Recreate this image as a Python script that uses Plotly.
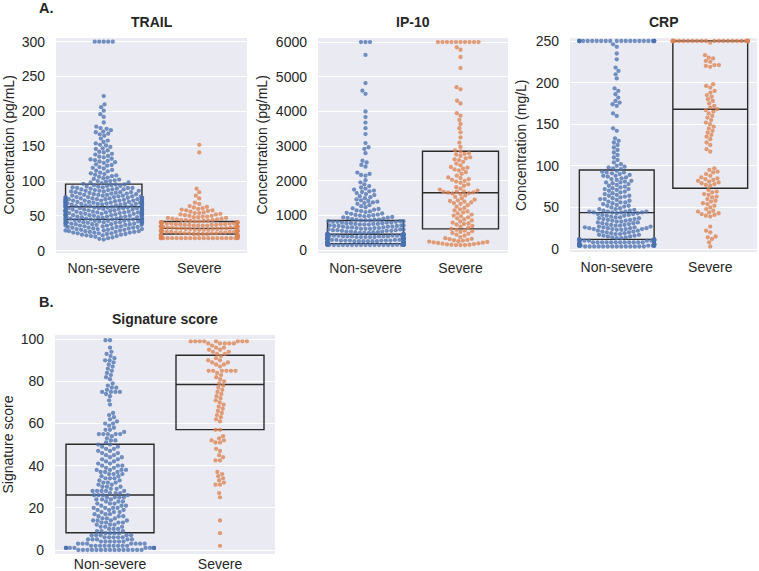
import numpy as np
import plotly.graph_objects as go

W, H = 759, 571
categories = ["Non-severe", "Severe"]

# ---------------- data ----------------
trail_ns = [
    300, 300, 300, 300, 300,
    222, 210, 206, 201, 196, 192, 184,
    178, 176, 175, 173, 171, 170, 168, 167, 165,
    161, 158, 156, 154, 152, 151, 149, 147, 146, 144,
    142, 141, 139, 138, 136, 135, 134, 132, 131, 130,
    129, 128, 127, 126, 124, 123, 122, 120, 119, 118, 116, 115, 114, 112, 111, 110,
    109, 108, 107, 106, 105, 104, 103, 102, 101, 100, 100, 99, 98, 98, 97, 96,
    95, 95, 94, 94, 93, 93, 92, 92, 91, 91, 90, 90, 90, 89, 89, 88, 88, 88, 87, 87,
    86, 86, 86, 85, 85, 84, 84, 84, 83, 83, 82, 82, 82, 81, 81, 80, 80, 80,
    79, 79, 79, 78, 78, 78, 77, 77, 77, 77,
    76, 76, 76, 76, 75, 75, 75, 75, 74, 74, 74, 74, 74, 73, 73, 73, 73,
    72, 72, 72, 72, 72, 71, 71, 71, 71, 70, 70, 70, 70, 70, 69, 69, 69, 69,
    68, 68, 68, 68, 68, 67, 67, 67, 67, 66, 66, 66, 66, 66, 65, 65, 65, 65,
    64, 64, 64, 64, 64, 63, 63, 63, 63,
    62, 62, 62, 62, 61, 61, 61, 61, 61, 60, 60, 60, 60, 59, 59, 59, 59,
    58, 58, 58, 58, 58, 57, 57, 57, 57, 56, 56, 56, 56, 55, 55, 55, 55, 55,
    54, 54, 54, 54, 53, 53, 53, 53, 52, 52, 52, 52, 52, 51, 51, 51, 51,
    50, 50, 50, 50, 49, 49, 49, 49, 48, 48, 48, 48, 47, 47, 47, 47,
    46, 46, 46, 46, 45, 45, 45, 45,
    44, 44, 44, 44, 43, 43, 43, 43, 42, 42, 42, 42, 41, 41, 41, 41,
    40, 40, 40, 40, 39, 39, 39, 39, 38, 38, 38, 38, 37, 37, 37, 36, 36, 36, 35, 35, 35,
    34, 34, 34, 33, 33, 33, 32, 32, 32, 31, 31, 31, 30, 30, 30,
    29, 29, 29, 28, 28, 28, 27, 27, 27, 26, 26, 26, 25, 25, 25,
    24, 24, 23, 23, 22, 22, 21, 21, 20, 19,
    18, 17, 16,
]
trail_s = [
    152, 141, 89, 84, 79, 75,
    69, 67, 64, 63, 62, 61,
    60, 59, 58, 58, 57, 56, 55,
    54, 54, 53, 52, 52, 51, 50, 50,
    49, 49, 48, 48, 47, 47, 46, 46, 45, 45,
    44, 44, 44, 43, 43, 43, 42, 42,
    41, 41, 41, 41, 40, 40, 40, 40, 39, 39, 39, 39, 38, 38, 38, 38,
    37, 37, 37, 37, 36, 36, 36, 36, 35, 35, 35, 35, 34, 34, 34, 34,
    33, 33, 33, 33, 32, 32, 32, 32, 31, 31, 31, 31, 30, 30, 30, 30,
    29, 29, 29, 29, 28, 28, 28, 28, 27, 27, 27, 27, 26, 26, 26, 26,
    25, 25, 25, 25, 24, 24, 24, 24, 23, 23, 23, 23, 22, 22, 22, 22,
    21, 21, 21, 21, 20, 20, 20, 20,
    18, 18, 18, 18, 18, 18, 18, 18, 18, 18, 18,
    18, 18, 18, 18, 18, 18, 18, 18, 18, 18, 18,
]

ip10_ns = [
    6000, 6000, 6000, 5630, 4820, 4600, 4510, 4000, 3840, 3680, 3520, 3350,
    3090, 2970, 2920, 2800, 2580, 2530, 2460, 2410, 2240, 2200, 2170, 2150,
    2020, 1960, 1900, 1850, 1810, 1780, 1750, 1720, 1700, 1680, 1650, 1620,
    1590, 1560, 1530, 1500, 1470, 1440, 1420, 1400, 1380, 1360,
    1340, 1300, 1270, 1240, 1210, 1190, 1170, 1150, 1130, 1120, 1100,
    1080, 1060, 1050, 1030, 1020, 1010, 1000,
    990, 980, 960, 950, 940, 930, 910, 900,
    880, 880, 880, 860, 860, 860, 840, 840, 840, 820, 820, 820, 800, 800, 800,
    780, 780, 780, 760, 760, 760, 740, 740, 740, 720, 720, 720, 700, 700, 700,
    680, 680, 680, 660, 660, 660, 640, 640, 640, 620, 620, 620, 600, 600, 600,
    580, 580, 580, 560, 560, 560, 540, 540, 540, 520, 520, 520, 500, 500, 500,
    480, 480, 480,
    460, 460, 460, 460, 460, 460, 440, 440, 440, 440, 440, 440,
    420, 420, 420, 420, 420, 420, 400, 400, 400, 400, 400, 400,
    380, 380, 380, 380, 380, 380, 360, 360, 360, 360, 360, 360,
    340, 340, 340, 340, 340, 340, 320, 320, 320, 320, 320, 320,
    300, 300, 300, 300, 300, 300, 280, 280, 280, 280, 280, 280,
    260, 260, 260, 260, 260, 260, 240, 240, 240, 240, 240, 240,
    220, 220, 220, 220, 220, 220, 200, 200, 200, 200, 200, 200,
    190, 190, 190, 190, 190, 190, 190, 190,
    175, 175, 175, 175, 175, 175, 175, 175, 175, 175,
    160, 160, 160, 160, 160, 160, 160, 160, 160, 160, 160, 160,
    150, 150, 150, 150, 150, 150, 150, 150, 150, 150, 150, 150, 150, 150,
]
ip10_s = [
    6000, 6000, 6000, 6000, 6000, 6000, 6000, 6000, 6000, 6000,
    5850, 5780, 5570, 5250, 4700, 4640, 4310, 4230, 3950, 3880, 3760, 3640,
    3520, 3400, 3250, 3100, 2980,
    2880, 2850, 2800, 2780, 2760, 2720, 2680, 2650, 2620, 2600,
    2550, 2500, 2450, 2400, 2380, 2350, 2330, 2300, 2250, 2200, 2150, 2100,
    2080, 2050, 2030, 2000, 1980, 1950,
    1900, 1860, 1820, 1780, 1750, 1720, 1700, 1690, 1680, 1670, 1660, 1650,
    1640, 1620,
    1580, 1540, 1500, 1460, 1440, 1420, 1400, 1380, 1360, 1340, 1300, 1260,
    1220, 1180, 1150, 1120, 1090, 1060, 1030, 1000,
    980, 950, 920, 890, 860, 830, 800, 780, 760, 740, 700, 680, 650, 620,
    590, 570, 550, 530, 500, 480, 450, 420,
    380, 350, 330, 320, 300, 290, 280, 260, 250, 240, 230, 220, 210, 200,
    190, 180, 170, 160, 160, 150, 150, 150,
]

crp_ns = [
    250, 250, 250, 250, 250, 250, 250, 250, 250, 250, 250, 250,
    250, 250, 250, 250, 250, 250, 250, 250, 250, 250, 250, 250,
    246, 243, 235, 228, 218, 214, 210, 205, 193, 190, 186, 182, 178, 176, 174,
    172, 163, 160, 145, 142, 133, 130, 128, 125, 122, 119, 116, 113, 110, 107,
    104, 102, 100, 99, 98, 97, 96,
    94, 93, 92, 92, 91, 90, 89, 88, 88, 87, 86, 85, 84, 83, 82, 81, 80, 80,
    79, 78, 77, 76, 75, 74, 73, 72, 72, 71, 70, 69, 68, 67, 66, 65, 64, 64,
    63, 62, 61, 60, 60, 59, 58, 57, 56, 56, 55, 54, 53, 52, 52, 51, 50, 49,
    48, 48, 47, 46, 46, 45, 45, 45, 45, 44, 44, 44, 44,
    43, 43, 42, 42, 41, 41, 40, 40, 39, 38, 38, 37, 37, 36, 36, 35, 35, 34,
    34, 33, 33, 32, 32, 31, 31, 30, 30, 29, 29, 28, 28, 27, 27, 26, 26, 26,
    25, 25, 25, 25, 24, 24, 24, 24, 23, 23, 22, 22, 21, 21, 20, 20, 19, 19,
    18, 18, 17, 17, 16, 16, 15, 15, 14, 14, 13, 13, 12, 12,
    11, 11, 11, 11, 11, 11, 11, 11, 11, 11, 10, 10, 10, 10, 10, 10, 10, 10,
    8, 8, 8, 8, 8, 8, 8, 8, 8, 8, 8, 8, 6, 6, 6, 6, 6, 6, 6, 6, 6, 6, 6, 6,
    4, 4, 4, 4, 4, 4, 4, 4, 4, 4,
    3, 3, 3, 3, 3, 3, 3, 3, 3, 3, 3, 3, 3, 3,
]
crp_s = [
    250, 250, 250, 250, 250, 250, 250, 250, 250, 250, 250, 250, 250, 250,
    250, 250, 250, 250, 250, 250, 250, 250, 250, 250, 250, 250, 250, 250,
    248,
    233, 230, 229, 226, 225, 221, 221, 220, 219,
    198, 196, 194, 190, 188, 185, 183, 180, 178, 175, 172, 170, 168, 167,
    165, 163, 160, 158, 155, 152, 150, 147, 145, 142, 140, 137, 135, 132,
    128, 125, 120, 117,
    97, 95, 93, 92, 90, 88, 86, 85, 84, 83, 82, 81, 80, 79, 78, 77, 76,
    71, 69, 68, 66, 65, 63, 62, 60, 58, 57, 55, 54, 52, 50, 48, 46, 45,
    44, 43, 42, 41, 40, 39,
    27, 22, 20, 15, 14, 12, 8, 3,
]

sig_ns = [
    99.5, 99.5, 96, 94, 93, 92, 91, 90, 90, 89, 88, 87,
    86, 85, 84, 83, 82, 81, 79, 78, 77, 77, 76, 75, 75, 75, 75, 74, 73,
    71, 69, 65, 64, 63, 62, 61, 60, 60, 59, 58, 57, 57, 56,
    55, 55, 55, 55, 55, 54, 53, 52, 52, 51,
    50, 50, 49, 49, 48, 48, 47, 47, 46, 46, 45, 45, 44, 44, 43, 43, 42, 42,
    41, 41, 40, 40, 40, 39, 39, 38, 38, 38, 38, 37, 37, 37, 36, 36, 36,
    35, 35, 34, 34, 34, 33, 33, 32, 32, 32, 31, 31, 30, 30, 30, 29, 29,
    28, 28, 28, 28, 28, 27, 27, 27, 26, 26, 26, 26,
    25, 25, 25, 25, 24, 24, 24, 23, 23, 23, 22, 22, 22, 21, 21, 21,
    20, 20, 20, 20, 19, 19, 19, 18, 18, 18, 17, 17, 17, 16, 16, 16,
    15, 15, 15, 14, 14, 14, 14, 13, 13, 13, 13, 12, 12, 12, 11, 11, 11,
    10, 10, 10, 9, 9, 9, 8, 8, 8, 8,
    7, 7, 7, 7, 7, 6, 6, 6, 6, 6, 5, 5, 5, 5, 5, 4, 4, 4, 4, 4, 4,
    3, 3, 3, 3, 3, 3, 3, 2, 2, 2, 2, 2, 2, 2, 2, 2,
    1, 1, 1, 1, 1, 1, 1, 1, 1, 1,
    0, 0, 0, 0, 0, 0, 0, 0, 0, 0, 0, 0, 0, 0, 0,
]
sig_s = [
    99, 99, 99, 99, 99, 99, 99, 99, 98, 98, 98, 98, 98,
    97, 96, 96, 95, 95, 94, 94, 93, 93,
    92, 91, 90, 90, 89, 89, 88, 88, 87,
    85, 85, 85, 85, 85, 85,
    84, 83, 82, 81, 80, 79, 78, 77, 76, 75, 74, 73,
    72, 71, 70, 69, 68, 67, 66, 65, 64, 63, 62, 61,
    57, 57, 54, 53, 52, 52, 51, 51, 48, 47, 45, 44, 42.5, 42.5,
    37, 36, 35, 34, 33, 32, 31, 31, 27, 25, 14, 8, 2,
]

# box statistics (quartiles), [Non-severe, Severe]
trail_q1, trail_med, trail_q3 = [45, 24], [63, 32], [95.5, 42]
ip10_q1, ip10_med, ip10_q3 = [193, 617], [463, 1659], [858, 2854]
crp_q1, crp_med, crp_q3 = [11.6, 73], [43.7, 168], [95, 250]
sig_q1, sig_med, sig_q3 = [8.2, 57.1], [26.1, 78.5], [50.2, 92.4]

trail_ticks = [0, 50, 100, 150, 200, 250, 300]
ip10_ticks = [0, 1000, 2000, 3000, 4000, 5000, 6000]
crp_ticks = [0, 50, 100, 150, 200, 250]
sig_ticks = [0, 20, 40, 60, 80, 100]

# ---------------- styling / layout ----------------
BLUE = "rgba(76,114,176,0.78)"
ORANGE = "rgba(221,132,82,0.78)"
BG = "#EAEAF2"
TXT = "#262626"
FONT = "Liberation Sans, Arial, sans-serif"
FS = 14
MSIZE = 4.3

panels = [
    dict(title="TRAIL", ylabel="Concentration (pg/mL)", data=[trail_ns, trail_s],
         q1=trail_q1, med=trail_med, q3=trail_q3, ticks=trail_ticks,
         px=(56, 247, 38, 253), yr=(-3.3, 305.3), labx=8, xstand=5),
    dict(title="IP-10", ylabel="Concentration (pg/mL)", data=[ip10_ns, ip10_s],
         q1=ip10_q1, med=ip10_med, q3=ip10_q3, ticks=ip10_ticks,
         px=(318, 508, 38, 253), yr=(-78, 6118), labx=261, xstand=5),
    dict(title="CRP", ylabel="Concentration (mg/L)", data=[crp_ns, crp_s],
         q1=crp_q1, med=crp_med, q3=crp_q3, ticks=crp_ticks,
         px=(570, 757, 38, 252), yr=(-3.6, 253.6), labx=521, xstand=5),
    dict(title="Signature score", ylabel="Signature score", data=[sig_ns, sig_s],
         q1=sig_q1, med=sig_med, q3=sig_q3, ticks=sig_ticks,
         px=(55, 275, 335, 554), yr=(-1.9, 102), labx=7, xstand=0),
]


def swarm(values, px_per_y, d):
    """Beeswarm layout (seaborn-like): returns horizontal pixel offsets."""
    vals = np.asarray(values, float)
    order = np.argsort(vals, kind="stable")
    px_list, py_list = [], []
    out = np.zeros(len(vals))
    for idx in order:
        y = vals[idx] * px_per_y
        if px_list:
            pxa = np.array(px_list)
            pya = np.array(py_list)
            m = np.abs(pya - y) < d
            nx, ny = pxa[m], pya[m]
        else:
            nx, ny = np.array([]), np.array([])
        cands = [0.0]
        left = True
        for a, b in zip(nx, ny):
            dx = np.sqrt(max(d * d - (y - b) ** 2, 0.0)) * 1.05
            pair = [a - dx, a + dx] if left else [a + dx, a - dx]
            cands.extend(pair)
            left = not left
        cands = np.array(cands)
        cands = cands[np.argsort(np.abs(cands), kind="stable")]
        chosen = cands[0]
        for c in cands:
            if len(nx) == 0 or np.all((nx - c) ** 2 + (ny - y) ** 2 >= d * d * 0.999):
                chosen = c
                break
        px_list.append(chosen)
        py_list.append(y)
        out[idx] = chosen
    return out


fig = go.Figure()
annotations = []
layout = {}
colors = [BLUE, ORANGE]

for i, p in enumerate(panels):
    n = "" if i == 0 else str(i + 1)
    xa, ya = "x" + n, "y" + n
    x0, x1, y0, y1 = p["px"]
    px_per_x = (x1 - x0) / 2.0
    px_per_y = (y1 - y0) / (p["yr"][1] - p["yr"][0])
    for c, vals in enumerate(p["data"]):
        off = swarm(vals, px_per_y, MSIZE) / px_per_x
        off = np.clip(off, -0.4, 0.4)
        fig.add_trace(go.Scatter(
            x=c + off, y=vals, mode="markers", xaxis=xa, yaxis=ya,
            marker=dict(size=MSIZE, color=colors[c], line=dict(width=0)),
            showlegend=False, hoverinfo="y", cliponaxis=False))
    fig.add_trace(go.Box(
        x=[0, 1], q1=p["q1"], median=p["med"], q3=p["q3"],
        lowerfence=p["q1"], upperfence=p["q3"], width=0.8, whiskerwidth=0,
        orientation="v", fillcolor="rgba(0,0,0,0)",
        line=dict(color="#2b2b2b", width=1.4), boxpoints=False,
        xaxis=xa, yaxis=ya, showlegend=False, hoverinfo="skip"))
    layout["xaxis" + n] = dict(
        domain=[x0 / W, x1 / W], range=[-0.5, 1.5], tickvals=[0, 1],
        ticktext=categories, showgrid=False, zeroline=False, showline=False,
        anchor=ya, ticks="", tickfont=dict(size=FS, color=TXT, family=FONT),
        ticklabelstandoff=p["xstand"], automargin=False, fixedrange=True)
    layout["yaxis" + n] = dict(
        domain=[1 - y1 / H, 1 - y0 / H], range=list(p["yr"]), tickvals=p["ticks"],
        showgrid=True, gridcolor="white", gridwidth=1.3, zeroline=False,
        showline=False, anchor=xa, ticks="",
        tickfont=dict(size=FS, color=TXT, family=FONT), ticklabelstandoff=10,
        automargin=False, fixedrange=True)
    annotations.append(dict(
        text="<b>" + p["title"] + "</b>", x=(x0 + x1) / 2 / W, y=1 - (y0 - 16) / H,
        xref="paper", yref="paper", showarrow=False, xanchor="center",
        yanchor="middle", font=dict(size=FS, color=TXT, family=FONT)))
    annotations.append(dict(
        text=p["ylabel"], x=p["labx"] / W, y=1 - (y0 + y1) / 2 / H,
        xref="paper", yref="paper", showarrow=False, xanchor="center",
        yanchor="middle", textangle=-90,
        font=dict(size=FS, color=TXT, family=FONT)))

annotations.append(dict(text="<b>A.</b>", x=46 / W, y=1 - 8 / H, xref="paper",
                        yref="paper", showarrow=False, xanchor="center",
                        yanchor="middle", font=dict(size=14.5, color=TXT, family=FONT)))
annotations.append(dict(text="<b>B.</b>", x=46 / W, y=1 - 302 / H, xref="paper",
                        yref="paper", showarrow=False, xanchor="center",
                        yanchor="middle", font=dict(size=14.5, color=TXT, family=FONT)))

fig.update_layout(
    width=W, height=H, margin=dict(l=0, r=0, t=0, b=0, autoexpand=False),
    paper_bgcolor="white", plot_bgcolor=BG, boxmode="overlay",
    annotations=annotations, font=dict(family=FONT, color=TXT), **layout)

fig.write_html("out.html", config={"displayModeBar": False},
               post_script="document.body.style.margin='0';"
                           "document.body.style.overflow='hidden';")
